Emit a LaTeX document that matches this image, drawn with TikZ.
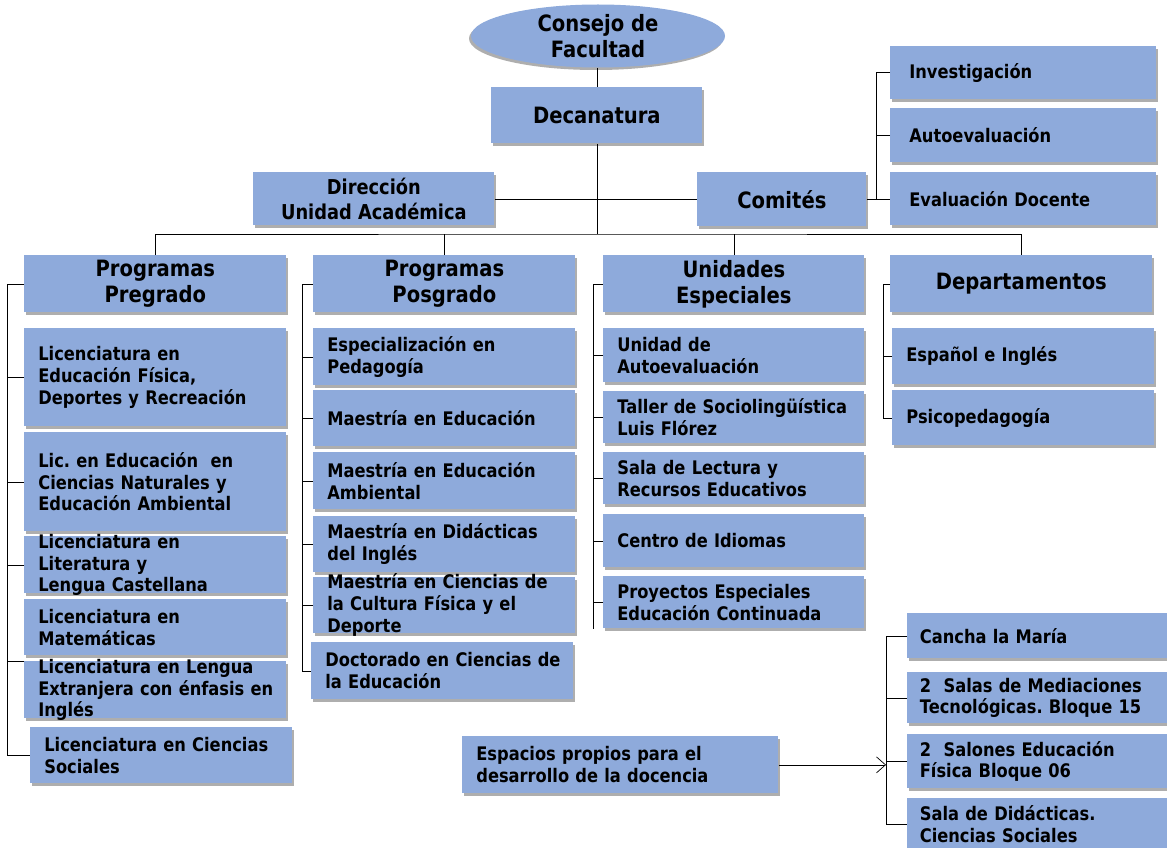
\documentclass[tikz,border=0pt]{standalone}
\usepackage{fontspec}
\setmainfont{DejaVu Sans}[FakeStretch=0.87]
\usetikzlibrary{shapes.geometric,shadows,arrows.meta}
\definecolor{boxblue}{RGB}{142,170,219}
\newcommand{\itemfont}{\bfseries\fontsize{18.7}{21.7}\selectfont}
\newcommand{\headfont}{\bfseries\fontsize{22.5}{26}\selectfont}
\newcommand{\dirfont}{\bfseries\fontsize{20.5}{24.3}\selectfont}
\hyphenpenalty=10000
\frenchspacing

\begin{document}
\begin{tikzpicture}[x=1pt,y=-1pt,line width=0.7pt,
  box/.style={rectangle,fill=boxblue,inner ysep=0pt,
    drop shadow={shadow xshift=1.5pt,shadow yshift=-2.5pt,opacity=.45,fill=black!70}},
  head/.style={box,anchor=north west,align=center,font=\headfont,minimum height=57pt},
  item/.style={box,anchor=north west,align=left,inner xsep=14pt,font=\itemfont},
  col/.style={item,minimum width=262pt,text width=234pt},
  uni/.style={item,minimum width=261pt,text width=233pt},
  cmt/.style={item,minimum width=266pt,inner xsep=19pt,text width=228pt},
  rgt/.style={item,minimum width=268pt,inner xsep=12.5pt,text width=243pt},
  over/.style={text height=0pt,text depth=33pt}]

  \useasboundingbox (0,0) rectangle (1167,848);

  % top of the chart
  \node[ellipse,fill=boxblue,minimum width=254pt,minimum height=63pt,inner sep=0pt,
    align=center,font=\headfont,
    drop shadow={shadow xshift=-2pt,shadow yshift=-2.5pt,opacity=.45,fill=black!70}]
    (cons) at (598,36) {Consejo de\\Facultad};
  \node[head,minimum width=211pt,minimum height=56pt] (dec) at (491,87) {Decanatura};
  \node[head,minimum width=241pt,minimum height=53pt,font=\dirfont] (dir) at (253,172) {Dirección\\Unidad Académica};
  \node[head,minimum width=169pt,minimum height=54pt] (com) at (697,172) {Comités};

  \node[cmt,minimum height=53pt] (inv) at (890,46) {Investigación};
  \node[cmt,minimum height=54pt] (aut) at (890,108) {Autoevaluación};
  \node[cmt,minimum height=53pt] (eva) at (890,172) {Evaluación Docente};

  % column heads
  \node[head,minimum width=262pt] (preg) at (24,255) {Programas\\Pregrado};
  \node[head,minimum width=262pt] (posg) at (313,255) {Programas\\Posgrado};
  \node[head,minimum width=261pt] (unid) at (603,255) {Unidades\\Especiales};
  \node[head,minimum width=262pt] (dept) at (890,255) {Departamentos};

  % pregrado
  \node[col,minimum height=98pt] (p1) at (24,328) {Licenciatura en\\Educación Física,\\Deportes y Recreación};
  \node[col,minimum height=99pt] (p2) at (24,432) {Lic. en Educación~~en\\Ciencias Naturales y\\Educación Ambiental};
  \node[col,over,minimum height=57pt] (p3) at (24,536) {Licenciatura en\\Literatura y\\Lengua Castellana};
  \node[col,minimum height=56pt] (p4) at (24,599) {Licenciatura en\\Matemáticas};
  \node[col,over,minimum height=57pt] (p5) at (24,661) {Licenciatura en Lengua\\\mbox{Extranjera con énfasis en}\\Inglés};
  \node[col,minimum height=56pt] (p6) at (30,727) {Licenciatura en Ciencias\\Sociales};

  % posgrado
  \node[col,minimum height=57pt] (m1) at (313,328) {Especialización en\\Pedagogía};
  \node[col,minimum height=56pt] (m2) at (313,390) {Maestría en Educación};
  \node[col,minimum height=57pt] (m3) at (313,452) {Maestría en Educación\\Ambiental};
  \node[col,minimum height=56pt] (m4) at (313,516) {Maestría en Didácticas\\del Inglés};
  \node[col,over,minimum height=56pt] (m5) at (313,577) {\mbox{Maestría en Ciencias de}\\la Cultura Física y el\\Deporte};
  \node[col,minimum height=57pt] (m6) at (311,642) {\mbox{Doctorado en Ciencias de}\\la Educación};

  % unidades especiales
  \node[uni,minimum height=54pt] (u1) at (603,328) {Unidad de\\Autoevaluación};
  \node[uni,minimum height=52pt] (u2) at (603,391) {\mbox{Taller de Sociolingüística}\\Luis Flórez};
  \node[uni,minimum height=52pt] (u3) at (603,452) {Sala de Lectura y\\Recursos Educativos};
  \node[uni,minimum height=53pt] (u4) at (603,514) {Centro de Idiomas};
  \node[uni,minimum height=52pt] (u5) at (603,576) {Proyectos Especiales\\Educación Continuada};

  % departamentos
  \node[col,minimum height=56pt] (d1) at (892,328) {Español e Inglés};
  \node[col,minimum height=55pt] (d2) at (892,390) {Psicopedagogía};

  % espacios
  \node[item,minimum width=316pt,text width=288pt,minimum height=57pt] (esp) at (462,736) {Espacios propios para el\\desarrollo de la docencia};
  \node[rgt,minimum height=45pt] (r1) at (907,613) {Cancha la María};
  \node[rgt,minimum height=51pt] (r2) at (907,672) {2~~Salas de Mediaciones\\Tecnológicas. Bloque 15};
  \node[rgt,minimum height=54pt] (r3) at (907,734) {2~~Salones Educación\\Física Bloque 06};
  \node[rgt,minimum height=52pt] (r4) at (907,798) {Sala de Didácticas.\\Ciencias Sociales};

  \coordinate (bus) at (dec.south |- 0,234);
  \coordinate (cbus) at (876.5,0);
  \coordinate (pbus) at (7,0);
  \coordinate (mbus) at (302,0);
  \coordinate (ubus) at (593,0);
  \coordinate (dbus) at (883,0);
  \coordinate (rbus) at (886,0);

  \draw (cons.south -| dec.north) -- (dec.north);
  \draw (dec.south) -- (bus);
  \draw (dir.east) -- (dir.east -| com.west);
  \draw (preg.north) |- (bus) -| (dept.north);
  \draw (posg.north) -- (posg.north |- bus);
  \draw (unid.north) -- (unid.north |- bus);

  \draw (com.east) -- (com.east -| cbus);
  \draw (inv.west) -- (inv.west -| cbus) -- (eva.west -| cbus) -- (eva.west);
  \draw (aut.west) -- (aut.west -| cbus);

  \draw (preg.west) -- (preg.west -| pbus) -- (p6.west -| pbus) -- (p6.west);
  \draw (p1.west) -- (p1.west -| pbus);
  \draw (p2.west) -- (p2.west -| pbus);
  \draw (p3.west) -- (p3.west -| pbus);
  \draw (p5.north west) -- (p5.north west -| pbus);

  \draw (posg.west) -- (posg.west -| mbus) -- (m6.west -| mbus) -- (m6.west);
  \draw (m1.west) -- (m1.west -| mbus);
  \draw (m2.west) -- (m2.west -| mbus);
  \draw (m3.west) -- (m3.west -| mbus);
  \draw (m4.west) -- (m4.west -| mbus);
  \draw (m5.west) -- (m5.west -| mbus);

  \draw (unid.west) -- (unid.west -| ubus) -- (u5.south west -| ubus);
  \draw (u1.west) -- (u1.west -| ubus);
  \draw (u2.west) -- (u2.west -| ubus);
  \draw (u3.west) -- (u3.west -| ubus);
  \draw (u4.west) -- (u4.west -| ubus);
  \draw (u5.west) -- (u5.west -| ubus);

  \draw (dept.west) -- (dept.west -| dbus) -- (d2.west -| dbus) -- (d2.west);
  \draw (d1.west) -- (d1.west -| dbus);

  \draw (r1.west) -- (r1.west -| rbus) -- (r4.west -| rbus) -- (r4.west);
  \draw (r2.west) -- (r2.west -| rbus);
  \draw (r3.west) -- (r3.west -| rbus);
  \draw[-{Straight Barb[length=9pt,width=16pt]}] (esp.east) -- (esp.east -| rbus);
\end{tikzpicture}
\end{document}
